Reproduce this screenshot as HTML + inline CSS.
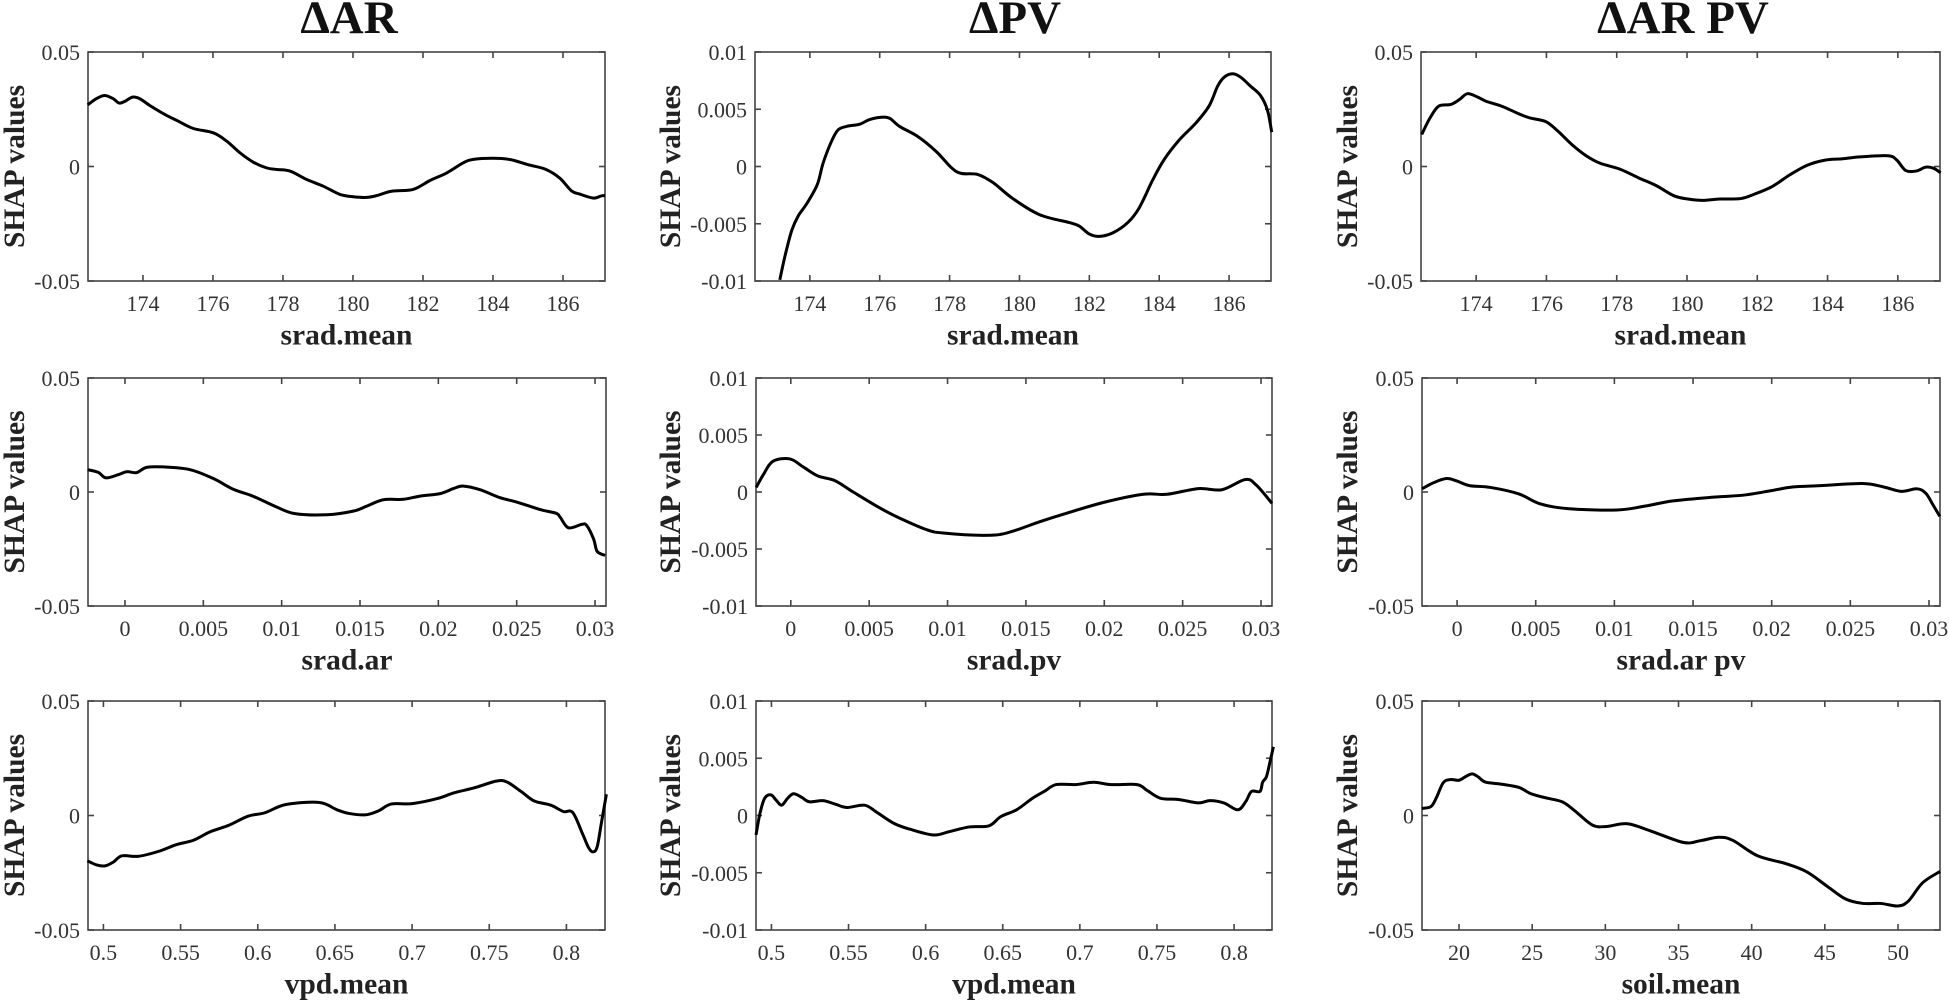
<!DOCTYPE html>
<html lang="en">
<head>
<meta charset="utf-8">
<title>SHAP dependence curves</title>
<style>
html,body{margin:0;padding:0;background:#fff;}
svg{display:block;}
text{font-family:"Liberation Serif",serif;}
</style>
</head>
<body>
<svg id="chart" xmlns="http://www.w3.org/2000/svg" width="1949" height="1001" viewBox="0 0 1949 1001"></svg>
<script>
// ---- data ----
const sradMeanTicks = [174,176,178,180,182,184,186];
const sradMeanLabels = ['174','176','178','180','182','184','186'];
const fractionTicks = [0,0.005,0.01,0.015,0.02,0.025,0.03];
const fractionLabels = ['0','0.005','0.01','0.015','0.02','0.025','0.03'];
const vpdTicks = [0.5,0.55,0.6,0.65,0.7,0.75,0.8];
const vpdLabels = ['0.5','0.55','0.6','0.65','0.7','0.75','0.8'];
const soilTicks = [20,25,30,35,40,45,50];
const soilLabels = ['20','25','30','35','40','45','50'];
const wideYTicks = [-0.05,0,0.05];
const wideYLabels = ['-0.05','0','0.05'];
const narrowYTicks = [-0.01,-0.005,0,0.005,0.01];
const narrowYLabels = ['-0.01','-0.005','0','0.005','0.01'];

const arSradMeanX = [172.42,172.68,172.91,173.15,173.32,173.49,173.70,173.91,174.2,174.63,175.01,175.44,176.01,176.39,176.77,177.15,177.53,177.82,178.2,178.68,179.15,179.63,180.01,180.39,180.68,181.1,181.72,182.2,182.68,183.15,183.44,184.01,184.5,185,185.5,185.91,186.24,186.49,186.87,187.1,187.2];
const arSradMeanY = [.0269,.0297,.0310,.0296,.0277,.0285,.0303,.0296,.0266,.0227,.0198,.0166,.0147,.0111,.006,.0019,-.0006,-.0013,-.002,-.0057,-.0086,-.0122,-.0132,-.0135,-.0127,-.0108,-.01,-.0061,-.0028,.0016,.0031,.0036,.0030,.0008,-.0012,-.0051,-.0106,-.0121,-.0138,-.0128,-.0128];

const pvSradMeanX = [173.14,173.29,173.48,173.67,173.9,174.21,174.38,174.62,174.81,175.05,175.43,175.71,176.05,176.29,176.57,177.1,177.62,178.05,178.33,178.81,179.24,179.81,180.57,181.43,181.71,182.0,182.29,182.67,183.1,183.43,183.81,184.14,184.57,185.05,185.43,185.67,185.86,186.1,186.33,186.62,186.9,187.1,187.22];
const pvSradMeanY = [-.0099,-.0078,-.0056,-.0043,-.0033,-.0016,.0003,.0022,.0032,.0035,.0037,.0041,.0043,.0042,.0035,.0026,.0013,-.0001,-.0006,-.0007,-.0014,-.0028,-.0042,-.0049,-.0052,-.0059,-.0061,-.0058,-.0049,-.0036,-.0012,.0006,.0023,.0038,.0053,.007,.0078,.0081,.0078,.007,.0062,.0049,.003];

const arpvSradMeanX = [172.45,172.68,172.93,173.28,173.53,173.75,174.03,174.28,174.73,175.23,175.53,175.98,176.33,176.73,177.13,177.53,178.08,178.63,179.13,179.63,180.03,180.43,180.93,181.53,181.93,182.43,182.93,183.43,183.93,184.43,184.93,185.72,185.97,186.22,186.52,186.79,187.02,187.22];
const arpvSradMeanY = [.014,.021,.0263,.0271,.0293,.0318,.0304,.0285,.0263,.0229,.0212,.0196,.0154,.0095,.0047,.0014,-.0011,-.005,-.0084,-.0128,-.0142,-.0148,-.0142,-.014,-.012,-.0087,-.0036,.0006,.0028,.0034,.0042,.0047,.0028,-.0017,-.002,-.0003,-.0008,-.0028];

const arSradArX = [-.00238,-.0017,-.00121,-.00043,.00011,.00074,.00138,.00245,.00415,.00564,.00691,.00819,.00968,.01085,.01287,.01457,.01543,.01649,.01777,.01883,.02011,.02096,.0216,.02266,.02394,.025,.0265,.0275,.02777,.0283,.02915,.02947,.0299,.0301,.03033,.03065];
const arSradArY = [.0098,.0086,.0062,.0076,.0089,.0085,.0108,.011,.0098,.0059,.0012,-.0019,-.0066,-.0095,-.01,-.0084,-.0062,-.0034,-.0032,-.0018,-.0007,.0015,.0026,.001,-.0025,-.0044,-.0077,-.0093,-.011,-.0157,-.0142,-.0147,-.0205,-.0256,-.027,-.0278];

const pvSradPvX = [-.00221,-.00172,-.00113,-.00006,.00079,.00174,.00281,.00398,.00568,.00696,.00866,.00972,.01228,.01377,.01589,.0175,.02,.0225,.024,.026,.0275,.029,.0297,.0307];
const pvSradPvY = [.0004,.0016,.0027,.0029,.0022,.0014,.001,0,-.0014,-.0023,-.0033,-.0036,-.0038,-.0036,-.0026,-.0019,-.0009,-.0002,-.0002,.0003,.0002,.0011,.0006,-.001];

const arpvSradArPvX = [-.00223,-.00145,-.00067,0,.00078,.00212,.00391,.00525,.00703,.01016,.01194,.01373,.01641,.01819,.01998,.02132,.0231,.02578,.02712,.02824,.02924,.0298,.03025,.03069];
const arpvSradArPvY = [.0014,.0042,.0059,.0048,.0028,.002,-.0008,-.0051,-.0073,-.0079,-.0062,-.0039,-.0022,-.0014,.0006,.0022,.0028,.0037,.0022,.0003,.0014,-.0006,-.0056,-.0107];

const arVpdX = [.4896,.4956,.5011,.5065,.512,.5229,.5365,.5474,.5583,.5692,.5815,.5937,.6046,.6183,.64,.651,.6591,.67,.6782,.6864,.7,.7163,.7272,.7409,.7545,.7613,.7708,.779,.7899,.7981,.8041,.8104,.8144,.8172,.8199,.8226,.8259];
const arVpdY = [-.0198,-.0216,-.022,-.0203,-.0176,-.0178,-.0155,-.0127,-.0108,-.0071,-.0042,-.0003,.0012,.0048,.0057,.0026,.0009,.0003,.002,.005,.0052,.0074,.0099,.0122,.015,.0147,.0104,.0064,.0045,.0017,.0013,-.0079,-.0141,-.0159,-.0137,-.0035,.0093];

const pvVpdX = [.49,.4926,.4956,.4997,.5033,.5067,.5105,.5143,.5195,.5246,.5335,.5412,.5489,.5604,.5681,.5796,.5899,.6052,.6155,.6283,.6411,.6487,.659,.6692,.6769,.6846,.6974,.7089,.7204,.7371,.7435,.7524,.764,.7768,.7844,.7934,.8024,.8075,.8113,.8168,.8185,.821,.8235,.8255];
const pvVpdY = [-.0017,.0002,.0015,.0018,.0013,.0009,.0015,.0019,.0016,.0012,.0013,.001,.0007,.0009,.0003,-.0007,-.0012,-.0017,-.0014,-.001,-.0009,-.0001,.0005,.0015,.0021,.0027,.0027,.0029,.0027,.0027,.0022,.0015,.0014,.0011,.0013,.0011,.0005,.0012,.0021,.0021,.0029,.0034,.0048,.006];

const arpvSoilX = [17.46,18.08,18.44,18.92,19.4,20,20.48,20.91,21.32,21.8,22.88,24.08,24.92,26,27.08,27.92,29.12,30.08,31.52,33.2,35.36,36.56,37.76,38.72,40.4,42.32,43.76,45.2,46.4,47.6,48.8,50,50.72,51.68,52.88];
const arpvSoilY = [.0031,.0039,.0076,.0143,.0157,.0154,.0171,.0182,.0168,.0146,.0137,.0123,.0095,.0076,.0059,.002,-.0042,-.0048,-.0036,-.007,-.0118,-.0109,-.0095,-.0109,-.0176,-.021,-.0246,-.0311,-.0364,-.0384,-.0384,-.0395,-.0373,-.0294,-.0244];

// ---- panel layout ----
const panels = [
 {id:'ar-srad-mean',  box:[88,605,52,281],    xlim:[172.43,187.2],  ylim:[-.05,.05], xs:arSradMeanX,  ys:arSradMeanY,  xt:sradMeanTicks, xl:sradMeanLabels, yt:wideYTicks,   yl:wideYLabels,   xlabel:'srad.mean',  yOff:65},
 {id:'pv-srad-mean',  box:[755,1271,52,281],  xlim:[172.43,187.2],  ylim:[-.01,.01], xs:pvSradMeanX,  ys:pvSradMeanY,  xt:sradMeanTicks, xl:sradMeanLabels, yt:narrowYTicks, yl:narrowYLabels, xlabel:'srad.mean',  yOff:76},
 {id:'arpv-srad-mean',box:[1421,1940,52,281], xlim:[172.43,187.2],  ylim:[-.05,.05], xs:arpvSradMeanX,ys:arpvSradMeanY,xt:sradMeanTicks, xl:sradMeanLabels, yt:wideYTicks,   yl:wideYLabels,   xlabel:'srad.mean',  yOff:65},
 {id:'ar-srad-ar',    box:[88,606,378,606],   xlim:[-.00236,.0307], ylim:[-.05,.05], xs:arSradArX,    ys:arSradArY,    xt:fractionTicks, xl:fractionLabels, yt:wideYTicks,   yl:wideYLabels,   xlabel:'srad.ar',    yOff:65},
 {id:'pv-srad-pv',    box:[756,1272,378,606], xlim:[-.00222,.0307], ylim:[-.01,.01], xs:pvSradPvX,    ys:pvSradPvY,    xt:fractionTicks, xl:fractionLabels, yt:narrowYTicks, yl:narrowYLabels, xlabel:'srad.pv',    yOff:77},
 {id:'arpv-srad-ar-pv',box:[1422,1940,378,606],xlim:[-.00223,.0307],ylim:[-.05,.05], xs:arpvSradArPvX,ys:arpvSradArPvY,xt:fractionTicks, xl:fractionLabels, yt:wideYTicks,   yl:wideYLabels,   xlabel:'srad.ar pv', yOff:66},
 {id:'ar-vpd-mean',   box:[88,605,701,930],   xlim:[.49,.825],      ylim:[-.05,.05], xs:arVpdX,       ys:arVpdY,       xt:vpdTicks,      xl:vpdLabels,      yt:wideYTicks,   yl:wideYLabels,   xlabel:'vpd.mean',   yOff:65},
 {id:'pv-vpd-mean',   box:[756,1272,701,930], xlim:[.49,.8246],     ylim:[-.01,.01], xs:pvVpdX,       ys:pvVpdY,       xt:vpdTicks,      xl:vpdLabels,      yt:narrowYTicks, yl:narrowYLabels, xlabel:'vpd.mean',   yOff:77},
 {id:'arpv-soil-mean',box:[1422,1940,701,930],xlim:[17.47,52.87],   ylim:[-.05,.05], xs:arpvSoilX,    ys:arpvSoilY,    xt:soilTicks,     xl:soilLabels,     yt:wideYTicks,   yl:wideYLabels,   xlabel:'soil.mean',  yOff:66}
];
const columnTitles = [['ΔAR',349],['ΔPV',1015],['ΔAR PV',1683]];

const NS = 'http://www.w3.org/2000/svg';
const chart = document.getElementById('chart');
const AXIS = '#444';
const TEXT = '#333';
const TICK = 6;

function make(tag, parent, props){
  const el = document.createElementNS(NS, tag);
  for (const k in props) el.setAttribute(k, props[k]);
  parent.appendChild(el);
  return el;
}
function smoothPath(pts){
  let d = 'M' + pts[0][0].toFixed(2) + ' ' + pts[0][1].toFixed(2);
  for (let i = 0; i < pts.length - 1; i++){
    const p0 = pts[Math.max(i-1,0)], p1 = pts[i], p2 = pts[i+1], p3 = pts[Math.min(i+2,pts.length-1)];
    const c1x = p1[0] + (p2[0]-p0[0])/6, c1y = p1[1] + (p2[1]-p0[1])/6;
    const c2x = p2[0] - (p3[0]-p1[0])/6, c2y = p2[1] - (p3[1]-p1[1])/6;
    d += 'C' + c1x.toFixed(2) + ' ' + c1y.toFixed(2) + ' ' + c2x.toFixed(2) + ' ' + c2y.toFixed(2) + ' ' + p2[0].toFixed(2) + ' ' + p2[1].toFixed(2);
  }
  return d;
}

columnTitles.forEach(function(t){
  const title = make('text', chart, {x:t[1], y:33, 'text-anchor':'middle', 'font-size':47, 'font-weight':'bold', fill:'#111'});
  
  
  title.textContent = t[0];
});

panels.forEach(function(p){
  const L = p.box[0], R = p.box[1], T = p.box[2], B = p.box[3];
  const xScale = function(v){ return L + (v - p.xlim[0]) / (p.xlim[1] - p.xlim[0]) * (R - L); };
  const yScale = function(v){ return B - (v - p.ylim[0]) / (p.ylim[1] - p.ylim[0]) * (B - T); };

  const g = make('g', chart, {});
  
  

  const frame = make('rect', g, {x:L, y:T, width:R-L, height:B-T, fill:'none', stroke:AXIS, 'stroke-width':1.6});
  
  

  p.xt.forEach(function(v, i){
    const x = xScale(v);
    const bottomTick = make('line', g, {x1:x, x2:x, y1:B, y2:B-TICK, stroke:AXIS, 'stroke-width':1.6});
    
    
    const topTick = make('line', g, {x1:x, x2:x, y1:T, y2:T+TICK, stroke:AXIS, 'stroke-width':1.6});
    
    
    const label = make('text', g, {x:x, y:B+30, 'text-anchor':'middle', 'font-size':22, fill:TEXT});
    
    
    label.textContent = p.xl[i];
  });

  p.yt.forEach(function(v, i){
    const y = yScale(v);
    const leftTick = make('line', g, {x1:L, x2:L+TICK, y1:y, y2:y, stroke:AXIS, 'stroke-width':1.6});
    
    
    const rightTick = make('line', g, {x1:R, x2:R-TICK, y1:y, y2:y, stroke:AXIS, 'stroke-width':1.6});
    
    
    const label = make('text', g, {x:L-8, y:y+8, 'text-anchor':'end', 'font-size':22, fill:TEXT});
    
    
    label.textContent = p.yl[i];
  });

  const xTitle = make('text', g, {x:(L+R)/2, y:B+63.5, 'text-anchor':'middle', 'font-size':29.5, 'font-weight':'bold', fill:'#222'});
  
  
  xTitle.textContent = p.xlabel;

  const yx = L - p.yOff + 1, yy = (T + B) / 2;
  const yTitle = make('text', g, {x:yx, y:yy, 'text-anchor':'middle', 'font-size':29.5, 'font-weight':'bold', fill:'#222', transform:'rotate(-90 ' + yx + ' ' + yy + ')'});
  
  
  yTitle.textContent = 'SHAP values';

  const pts = p.xs.map(function(v, i){ return [xScale(v), yScale(p.ys[i])]; });
  const curve = make('path', g, {d:smoothPath(pts), fill:'none', stroke:'#000', 'stroke-width':3, 'stroke-linejoin':'round'});
  
  
});
</script>
</body>
</html>
